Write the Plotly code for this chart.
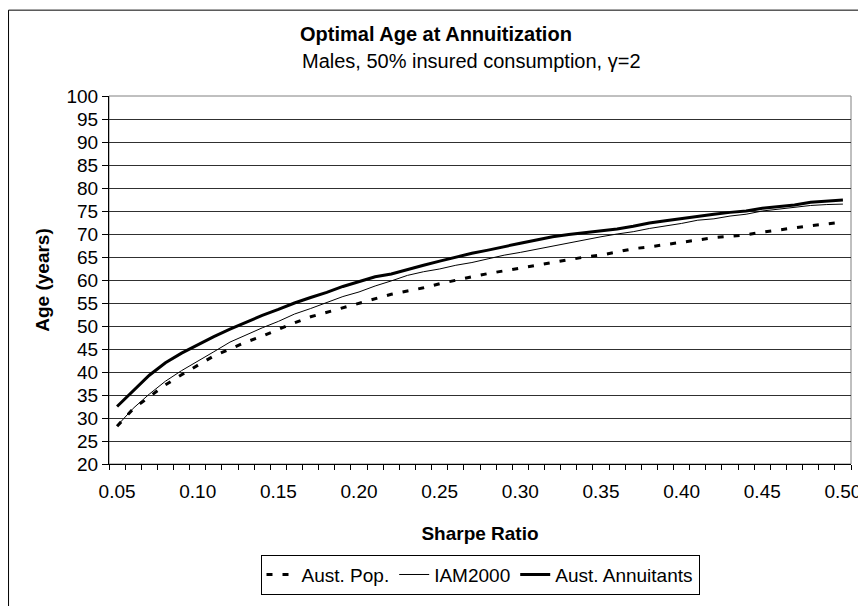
import plotly.graph_objects as go

sharpe = [round(0.05 + 0.01 * i, 2) for i in range(46)]

aust_pop = [28.2, 32.0, 34.6, 37.2, 39.4, 41.4, 43.5, 45.0, 46.5, 47.8,
            49.3, 50.7, 52.0, 53.0, 54.0, 55.0, 55.9, 56.9, 57.6, 58.3,
            59.2, 60.0, 60.7, 61.4, 62.0, 62.6, 63.3, 63.8, 64.5, 65.0,
            65.4, 66.1, 66.8, 67.2, 67.7, 68.3, 68.8, 69.2, 69.5, 69.8,
            70.4, 70.9, 71.4, 71.8, 72.2, 72.6]

iam2000 = [28.3, 32.1, 35.2, 38.0, 40.3, 42.3, 44.4, 46.5, 48.1, 49.6,
           51.0, 52.6, 53.8, 55.1, 56.4, 57.4, 58.7, 59.8, 61.0, 61.8,
           62.4, 63.2, 63.8, 64.6, 65.4, 66.0, 66.7, 67.4, 68.1, 68.7,
           69.4, 70.0, 70.5, 71.2, 71.7, 72.3, 73.0, 73.3, 73.9, 74.3,
           75.0, 75.4, 75.8, 76.2, 76.4, 76.5]

aust_annuitants = [32.5, 36.0, 39.3, 42.0, 44.1, 45.9, 47.7, 49.3, 50.8, 52.3,
                   53.6, 55.0, 56.2, 57.3, 58.6, 59.7, 60.7, 61.3, 62.3, 63.2,
                   64.1, 65.0, 65.8, 66.5, 67.3, 68.0, 68.7, 69.4, 69.9, 70.3,
                   70.7, 71.1, 71.7, 72.4, 72.9, 73.4, 73.8, 74.3, 74.7, 75.0,
                   75.6, 76.0, 76.3, 76.9, 77.1, 77.4]

x_labels = [0.05, 0.10, 0.15, 0.20, 0.25, 0.30, 0.35, 0.40, 0.45, 0.50]
x_label_text = ["0.05", "0.10", "0.15", "0.20", "0.25", "0.30", "0.35", "0.40", "0.45", "0.50"]
y_ticks = list(range(20, 101, 5))

FONT = "Arial, Liberation Sans, sans-serif"
FS = 19

fig = go.Figure()
fig.add_trace(go.Scatter(x=sharpe, y=aust_pop, mode="lines", name="Aust. Pop.",
                         line=dict(color="black", width=3, dash="6px,10px")))
fig.add_trace(go.Scatter(x=sharpe, y=iam2000, mode="lines", name="IAM2000",
                         line=dict(color="black", width=1)))
fig.add_trace(go.Scatter(x=sharpe, y=aust_annuitants, mode="lines", name="Aust. Annuitants",
                         line=dict(color="black", width=3)))

# plot area border (grey) and outer chart border
fig.add_shape(type="rect", xref="paper", yref="paper", x0=0, y0=0, x1=1, y1=1,
              line=dict(color="#808080", width=1), layer="below")
fig.add_shape(type="rect", xref="paper", yref="paper", x0=-0.1354, y0=-0.40, x1=1.0162, y1=1.2333,
              line=dict(color="black", width=1), layer="below")

fig.add_annotation(text="<b>Optimal Age at Annuitization</b>", xref="paper", yref="paper",
                   x=0.4407, y=1.168, xanchor="center", yanchor="middle", showarrow=False,
                   font=dict(size=20, family=FONT, color="black"))
fig.add_annotation(text="Males, 50% insured consumption, γ=2", xref="paper", yref="paper",
                   x=0.488, y=1.096, xanchor="center", yanchor="middle", showarrow=False,
                   font=dict(size=20, family=FONT, color="black"))

fig.update_layout(
    width=858, height=598,
    margin=dict(l=101, r=15, t=88, b=135),
    paper_bgcolor="white", plot_bgcolor="white",
    font=dict(family=FONT, size=FS, color="black"),
    showlegend=True,
    legend=dict(orientation="h", x=0.5, xanchor="center", y=-0.355, yanchor="bottom",
                bordercolor="black", borderwidth=1, font=dict(size=FS, family=FONT),
                itemwidth=30, tracegroupgap=0),
    xaxis=dict(range=[0.045, 0.505], tickmode="array", tickvals=x_labels, ticktext=x_label_text,
               ticks="", showgrid=False, zeroline=False, showline=True, linecolor="black", linewidth=1,
               automargin=False,
               minor=dict(tick0=0.045, dtick=0.01, ticks="outside", ticklen=5, tickcolor="black", showgrid=False),
               tickfont=dict(size=FS, family=FONT),
               title=dict(text="<b>Sharpe Ratio</b>", font=dict(size=FS, family=FONT), standoff=25),
               ticklabelstandoff=10),
    yaxis=dict(range=[20, 100], tickmode="array", tickvals=y_ticks, ticks="outside", ticklen=6,
               tickcolor="black", showgrid=True, gridcolor="#303030", gridwidth=1, zeroline=False,
               showline=True, linecolor="black", linewidth=1, automargin=False,
               tickfont=dict(size=FS, family=FONT),
               title=dict(text="<b>Age (years)</b>", font=dict(size=FS, family=FONT), standoff=11)),
)

fig.write_html("out.html")
